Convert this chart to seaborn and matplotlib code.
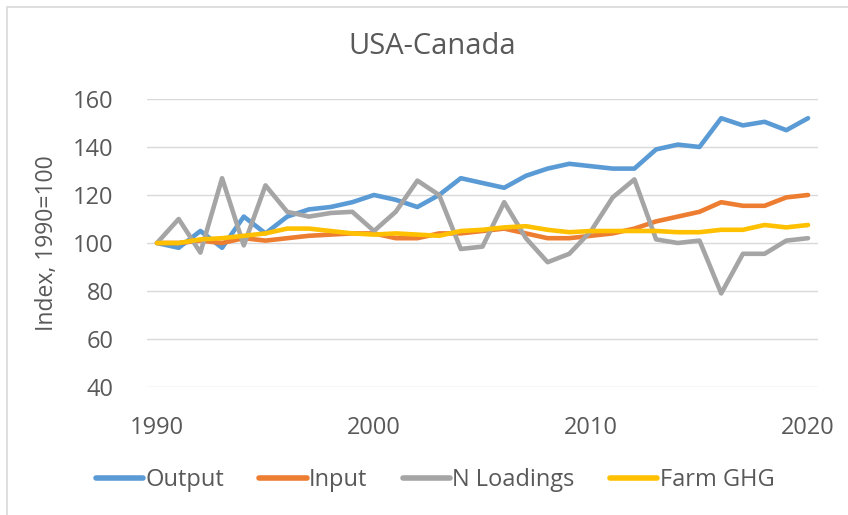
"""
USA-Canada agricultural indices (1990=100): output, input, N loadings and
farm GHG emissions, redrawn in the style of the original Excel chart.
"""
import numpy as np
import pandas as pd
import matplotlib
matplotlib.use("Agg")
import matplotlib.pyplot as plt
from matplotlib.patches import Rectangle
import seaborn as sns

years = list(range(1990, 2021))

output = [100, 98, 105, 98, 111, 104, 111, 114, 115, 117, 120, 118, 115, 120,
          127, 125, 123, 128, 131, 133, 132, 131, 131, 139, 141, 140, 152, 149,
          150.5, 147, 152]
inputs = [100, 100, 101, 100, 102, 101, 102, 103, 103.5, 104, 104, 102, 102,
          104, 104, 105, 106, 104, 102, 102, 103, 104, 106, 109, 111, 113, 117,
          115.5, 115.5, 119, 120]
n_loadings = [100, 110, 96, 127, 99, 124, 113, 111, 112.5, 113, 105, 113, 126,
              120, 97.5, 98.5, 117, 102, 92, 95.5, 105, 119, 126.5, 101.5, 100,
              101, 79, 95.5, 95.5, 101, 102]
farm_ghg = [100, 100, 101.5, 102, 103, 104, 106, 106, 105, 104, 103.5, 104,
            103.5, 103, 105, 105.5, 106.5, 107, 105.5, 104.5, 105, 105, 105,
            105, 104.5, 104.5, 105.5, 105.5, 107.5, 106.5, 107.5]

series = ["Output", "Input", "N Loadings", "Farm GHG"]
colours = ["#5B9BD5", "#ED7D31", "#A5A5A5", "#FFC000"]
TXT = "#595959"

df = pd.DataFrame({"year": years * 4,
                   "value": output + inputs + n_loadings + farm_ghg,
                   "series": np.repeat(series, len(years))})

sns.set_style("white")
plt.rcParams['font.family'] = ['Open Sans', 'DejaVu Sans']

fig = plt.figure(figsize=(8.48, 5.15), dpi=100)
ax = fig.add_axes([147 / 848, 1 - 387 / 515, (818 - 147) / 848, (387 - 99) / 515])

sns.lineplot(data=df, x="year", y="value", hue="series", hue_order=series,
             palette=colours, linewidth=3.3, ax=ax, legend=False)

ax.set_xlim(1989.54, 2020.46)
ax.set_ylim(40, 160)
ax.set_xticks([1990, 2000, 2010, 2020])
ax.set_yticks(range(40, 161, 20))
ax.grid(axis='y', color="#D9D9D9", linewidth=1)
for s in ax.spines.values():
    s.set_visible(False)
ax.tick_params(length=0, labelsize=17, labelcolor=TXT)
ax.tick_params(axis='y', pad=24)
ax.tick_params(axis='x', pad=21)
ax.set_xlabel("")
ax.set_ylabel("Index, 1990=100", fontsize=16.5, color=TXT, labelpad=10)

fig.text(432 / 848, 1 - 47 / 515, "USA-Canada", ha='center', va='center',
         fontsize=21, color=TXT)

handles = [plt.Line2D([], [], color=c, linewidth=4) for c in colours]
fig.legend(handles, series, loc='center', bbox_to_anchor=(0.513, 1 - 480 / 515),
           ncol=4, frameon=False, fontsize=17, handlelength=2.0,
           handletextpad=0.1, columnspacing=1.5, labelcolor=TXT)

fig.patches.append(Rectangle((7 / 848, -0.01), 1.0, 1 - 7 / 515 + 0.01,
                             transform=fig.transFigure, fill=False,
                             edgecolor="#D9D9D9", linewidth=1.2))

fig.savefig("out.png", dpi=100)
